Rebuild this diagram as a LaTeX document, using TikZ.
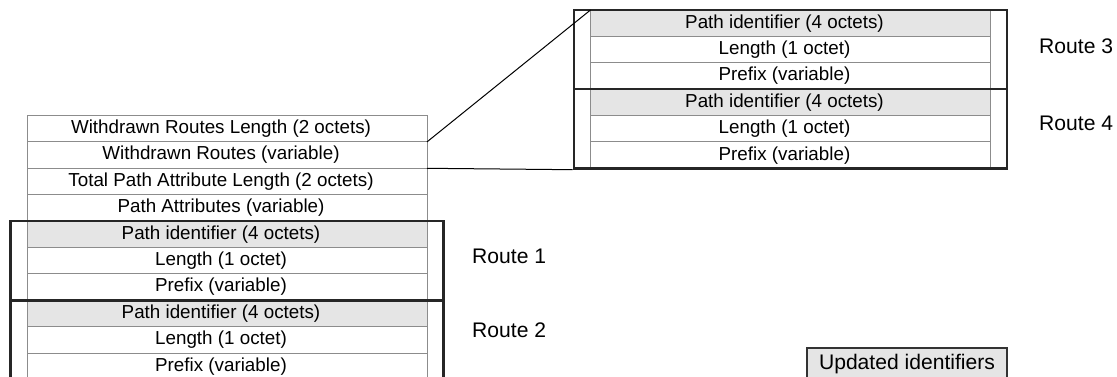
\documentclass[tikz,border=0pt]{standalone}
\usepackage{fontspec}
\setmainfont{Liberation Sans}
\usepackage{tikz}
\usetikzlibrary{positioning}
\usetikzlibrary{fit}
\definecolor{idgray}{RGB}{229,229,229}
\definecolor{linegray}{RGB}{140,140,140}
\tikzstyle{field} = [rectangle, draw=linegray, line width=1pt, outer sep=0pt, minimum width=400pt, minimum height=26.4pt, inner sep=0pt, font=\fontsize{18.8}{22}\selectfont, execute at begin node={\hspace*{-12pt}}]
\tikzstyle{pathid} = [field, fill=idgray]
\tikzstyle{route} = [rectangle, draw=black!85, line width=2.6pt, inner xsep=16.5pt, inner ysep=0pt]
\tikzstyle{routelbl} = [inner sep=0pt, anchor=base west, font=\fontsize{21.1}{25}\selectfont]

\begin{document}
\begin{tikzpicture}[x=1pt, y=-1pt]
\useasboundingbox (0, 0) rectangle (1117, 377);
% left update message
\node [field] (wrl) at (227, 128.7) {Withdrawn Routes Length (2 octets)};
\node [field] (wr) at (227, 155.1) {Withdrawn Routes (variable)};
\node [field] (tpal) at (227, 181.5) {Total Path Attribute Length (2 octets)};
\node [field] (pa) at (227, 207.9) {Path Attributes (variable)};
\node [pathid] (r1id) at (227, 234.3) {Path identifier (4 octets)};
\node [field] (r1len) at (227, 260.7) {Length (1 octet)};
\node [field] (r1pfx) at (227, 287.1) {Prefix (variable)};
\node [pathid] (r2id) at (227, 313.5) {Path identifier (4 octets)};
\node [field] (r2len) at (227, 339.9) {Length (1 octet)};
\node [field] (r2pfx) at (227, 366.3) {Prefix (variable)};
% withdrawn routes, zoomed
\node [pathid] (r3id) at (790.5, 23.2) {Path identifier (4 octets)};
\node [field] (r3len) at (790.5, 49.6) {Length (1 octet)};
\node [field] (r3pfx) at (790.5, 76) {Prefix (variable)};
\node [pathid] (r4id) at (790.5, 102.4) {Path identifier (4 octets)};
\node [field] (r4len) at (790.5, 128.8) {Length (1 octet)};
\node [field] (r4pfx) at (790.5, 155.2) {Prefix (variable)};
% route frames
\node [route, fit = (r1id) (r1pfx)] (route1) {};
\node [route, fit = (r2id) (r2pfx)] (route2) {};
\node [route, fit = (r3id) (r3pfx)] (route3) {};
\node [route, fit = (r4id) (r4pfx)] (route4) {};
\node [routelbl] (lbl1) at (472, 263.3) {Route 1};
\node [routelbl] (lbl2) at (472, 337.3) {Route 2};
\node [routelbl] (lbl3) at (1039, 53.3) {Route 3};
\node [routelbl] (lbl4) at (1039, 130.7) {Route 4};
\draw [line width=1pt] (wrl.south east) to (r3id.north west);
\draw [line width=1pt] (wr.south east) to (route4.south west);
\node [rectangle, fill=idgray, draw=black!80, line width=1.3pt, minimum width=200pt, minimum height=32pt, inner sep=0pt, font=\fontsize{21.1}{25}\selectfont] (legend) at (907, 364) {Updated identifiers};
\end{tikzpicture}
\end{document}
